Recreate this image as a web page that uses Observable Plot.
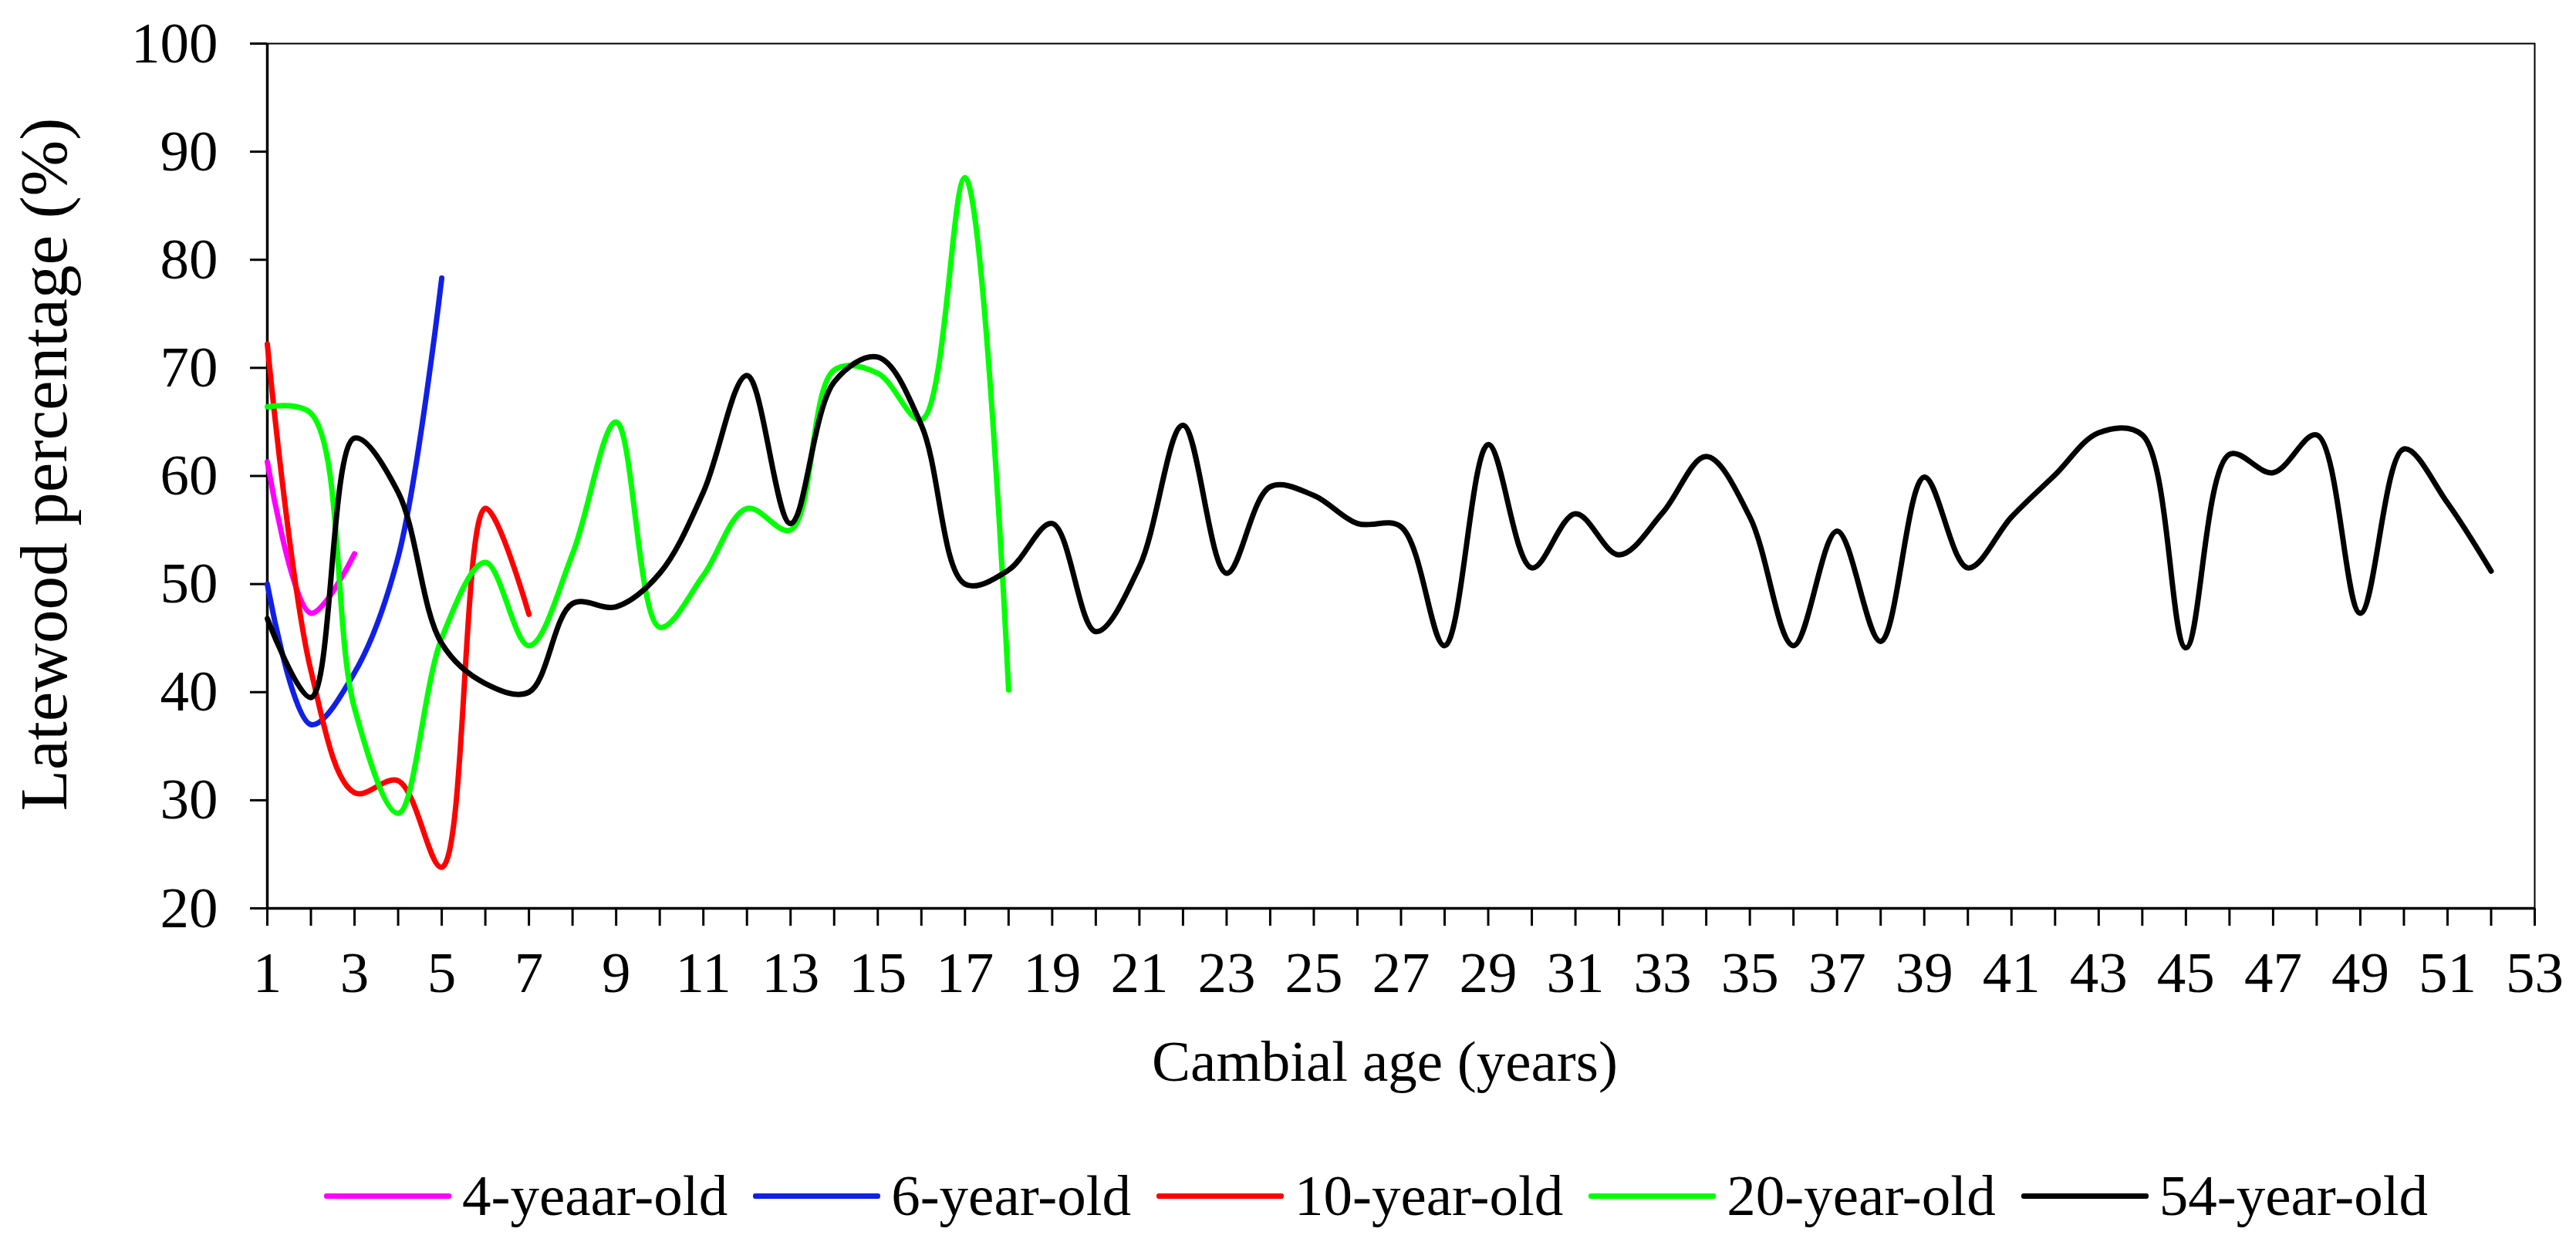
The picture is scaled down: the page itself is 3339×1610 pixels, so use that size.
<!DOCTYPE html>
<html>
<head>
<meta charset="utf-8">
<script src="https://cdn.jsdelivr.net/npm/d3@7"></script>
<script src="https://cdn.jsdelivr.net/npm/@observablehq/plot@0.6"></script>
<style>
  html, body { margin: 0; padding: 0; background: #fff; }
  #wrap { width: 3339px; height: 1610px; position: relative; font-family: "Liberation Serif", "Times New Roman", serif; }
  #legend { display: flex; align-items: center; height: 120px; padding-top: 10px; padding-left: 420px; font-size: 75px; color: #000; }
  .item { display: flex; align-items: center; margin-right: 33px; }
  .sw { width: 165px; height: 7px; border-radius: 3px; margin-right: 14px; }
</style>
</head>
<body>
<div id="wrap">
  <div id="chart"></div>
  <div id="legend"></div>
</div>
<script>
// Series names and colours
const seriesNames = ["4-yeaar-old", "6-year-old", "10-year-old", "20-year-old", "54-year-old"];
const seriesColors = ["#ff00ff", "#1020e6", "#ff0000", "#00ff00", "#000000"];

// Latewood percentage (%) by cambial age, starting at age 1
const fourYear = [61.3, 47.3, 52.8];
const sixYear = [50.0, 37.0, 41.8, 52.5, 78.3];
const tenYear = [72.2, 42.0, 30.7, 31.8, 23.8, 57.0, 47.2];
const twentyYear = [66.4, 65.8, 38.5, 28.8, 45.0, 52.0, 44.3, 52.8, 65.0, 46.0, 50.8, 57.0, 55.0, 69.8, 69.5, 65.2, 87.6, 40.2];
const fiftyFourYear = [46.8, 39.5, 63.5, 58.5, 44.5, 40.8, 40.0, 48.2, 47.9, 51.0, 58.5, 69.3, 55.6, 68.7, 71.0, 64.7, 50.0, 51.3, 55.6, 45.6, 51.6, 64.7, 51.0, 59.0, 58.2, 55.6, 55.3, 44.3, 62.9, 51.5, 56.5, 52.7, 56.6, 61.8, 56.2, 44.3, 54.9, 44.7, 59.9, 51.5, 56.2, 60.1, 64.0, 63.8, 44.1, 62.0, 60.3, 63.8, 47.3, 62.5, 57.5, 51.2];

// Axis ticks
const xTickLabels = [1, 3, 5, 7, 9, 11, 13, 15, 17, 19, 21, 23, 25, 27, 29, 31, 33, 35, 37, 39, 41, 43, 45, 47, 49, 51, 53];
const xTickMarks = d3.range(1, 54);
const yTicks = [20, 30, 40, 50, 60, 70, 80, 90, 100];

const xTitle = "Cambial age (years)";
const yTitle = "Latewood percentage (%)";

const allSeries = [fourYear, sixYear, tenYear, twentyYear, fiftyFourYear];
const tables = allSeries.map((vals, s) => vals.map((v, i) => ({age: i + 1, value: v, series: seriesNames[s]})));

const font = "'Liberation Serif', 'Times New Roman', serif";

const chart = Plot.plot({
  width: 3339,
  height: 1480,
  marginLeft: 346,
  marginRight: 54,
  marginTop: 56,
  marginBottom: 303,
  x: {domain: [1, 53]},
  y: {domain: [20, 100]},
  color: {domain: seriesNames, range: seriesColors},
  style: {fontFamily: font, fontSize: "75px", background: "#fff", color: "#000", overflow: "visible"},
  marks: [
    Plot.frame({stroke: "#000", strokeWidth: 2}),
    Plot.axisY({ticks: yTicks, tickSize: 22, tickPadding: 42, strokeWidth: 3, label: null, fontSize: 75, tickFormat: d => String(d)}),
    Plot.axisX({ticks: xTickMarks, tickSize: 23, tickPadding: 32, strokeWidth: 3, label: null, fontSize: 75,
      tickFormat: d => xTickLabels.includes(d) ? String(d) : ""}),
    Plot.ruleX([1], {stroke: "#000", strokeWidth: 3.5}),
    Plot.ruleY([20], {stroke: "#000", strokeWidth: 3.5}),
    ...tables.map(t => Plot.line(t, {x: "age", y: "value", stroke: "series", strokeWidth: 7, curve: "catmull-rom"})),
    Plot.text([yTitle], {frameAnchor: "left", textAnchor: "middle", rotate: -90, dx: -288, dy: -15, fontSize: 87, fill: "#000"}),
    Plot.text([xTitle], {frameAnchor: "bottom", textAnchor: "middle", dx: -21, dy: 223, fontSize: 75, fill: "#000"})
  ]
});
document.getElementById("chart").appendChild(chart);

const legend = document.getElementById("legend");
seriesNames.forEach((name, i) => {
  const item = document.createElement("div");
  item.className = "item";
  const sw = document.createElement("div");
  sw.className = "sw";
  sw.style.background = seriesColors[i];
  const label = document.createElement("span");
  label.textContent = name;
  item.appendChild(sw);
  item.appendChild(label);
  legend.appendChild(item);
});
</script>
</body>
</html>
